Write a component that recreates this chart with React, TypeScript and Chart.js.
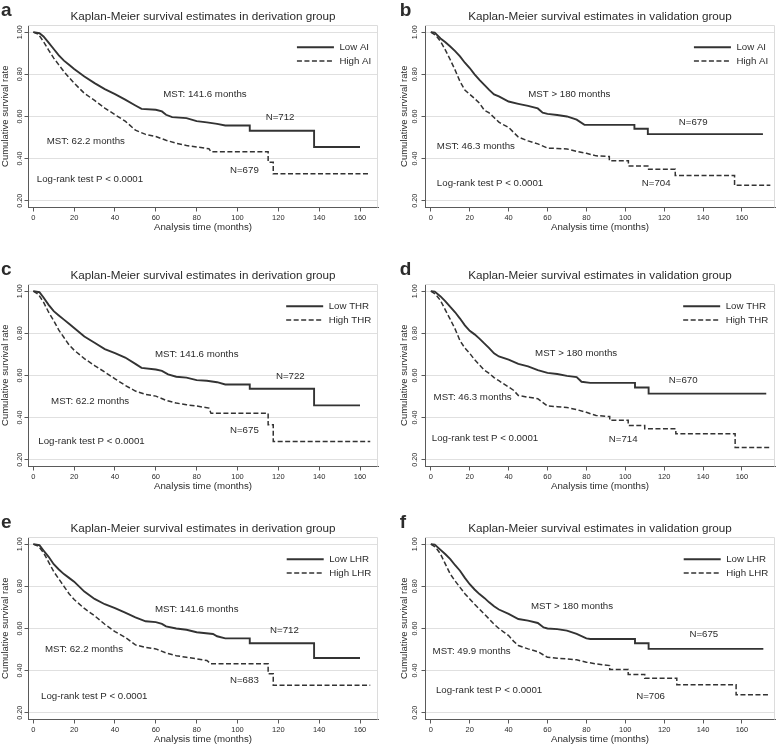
import React, { useEffect, useRef } from 'react';
import { Chart, registerables } from 'chart.js';

Chart.register(...registerables);

const FONT = '"Liberation Sans", Arial, Helvetica, sans-serif';
const INK = '#2b2b2b';
const LINE = '#333333';
const AXIS = '#5a5a5a';
const GRID = '#e0e0e0';
const FRAME = '#dcdcdc';

// ---- axes ----
const xTicks = [0, 20, 40, 60, 80, 100, 120, 140, 160];
const yTicks = [0.2, 0.4, 0.6, 0.8, 1.0];
const yTickLabels = ['0.20', '0.40', '0.60', '0.80', '1.00'];

// ---- panel texts ----
const panelLetters = ['a', 'b', 'c', 'd', 'e', 'f'];
const panelTitles = [
  'Kaplan-Meier survival estimates in derivation group',
  'Kaplan-Meier survival estimates in validation group',
  'Kaplan-Meier survival estimates in derivation group',
  'Kaplan-Meier survival estimates in validation group',
  'Kaplan-Meier survival estimates in derivation group',
  'Kaplan-Meier survival estimates in validation group',
];
const lowLabels = ['Low AI', 'Low AI', 'Low THR', 'Low THR', 'Low LHR', 'Low LHR'];
const highLabels = ['High AI', 'High AI', 'High THR', 'High THR', 'High LHR', 'High LHR'];

// ---- series (time in months, cumulative survival) ----
const aLowT = [0, 3, 5, 7.5, 10, 12.5, 15, 17.5, 20, 25, 30, 35, 40, 45, 50, 53, 60, 63, 65, 68, 75, 80, 85, 90, 94, 106, 106, 137.5, 137.5, 160];
const aLowS = [1, 0.995, 0.98, 0.95, 0.92, 0.89, 0.865, 0.845, 0.825, 0.79, 0.758, 0.73, 0.706, 0.68, 0.652, 0.636, 0.632, 0.624, 0.608, 0.597, 0.592, 0.578, 0.572, 0.565, 0.557, 0.557, 0.532, 0.532, 0.455, 0.455];
const aHighT = [0, 2.5, 5, 7.5, 10, 12.5, 15, 17.5, 20, 25, 30, 35, 40, 45, 50, 55, 60, 65, 70, 75, 80, 86, 87, 115, 115, 117.5, 117.5, 165];
const aHighS = [1, 0.99, 0.955, 0.915, 0.877, 0.845, 0.813, 0.785, 0.758, 0.71, 0.676, 0.64, 0.608, 0.578, 0.535, 0.515, 0.505, 0.487, 0.473, 0.462, 0.455, 0.447, 0.432, 0.432, 0.383, 0.383, 0.328, 0.328];

const bLowT = [0, 2, 5, 7.5, 10, 12.5, 15, 17.5, 20, 22.5, 25, 27.5, 30, 32.5, 35, 40, 45, 50, 55, 57.5, 60, 65, 70, 75, 79, 104.7, 104.7, 111.6, 111.6, 170.8];
const bLowS = [1, 0.998, 0.97, 0.952, 0.932, 0.91, 0.885, 0.855, 0.83, 0.8, 0.774, 0.75, 0.726, 0.705, 0.695, 0.671, 0.66, 0.65, 0.638, 0.618, 0.612, 0.607, 0.6, 0.585, 0.56, 0.56, 0.542, 0.542, 0.516, 0.516];
const bHighT = [0, 2.5, 5, 7.5, 10, 12.5, 15, 17.5, 20, 22.5, 25, 27.5, 30, 32.5, 35, 37.5, 40, 42.5, 45, 50, 55, 60, 65, 70, 75, 80, 85, 91.8, 91.8, 101.6, 101.6, 111.6, 111.6, 125.7, 125.7, 156.2, 156.2, 174.6];
const bHighS = [1, 0.985, 0.956, 0.915, 0.869, 0.82, 0.766, 0.725, 0.705, 0.685, 0.663, 0.63, 0.617, 0.595, 0.573, 0.56, 0.548, 0.525, 0.502, 0.484, 0.47, 0.45, 0.448, 0.446, 0.434, 0.425, 0.413, 0.41, 0.39, 0.39, 0.365, 0.365, 0.35, 0.35, 0.32, 0.32, 0.273, 0.273];

const cLowT = [0, 3, 5, 7.5, 10, 12.5, 15, 17.5, 20, 25, 30, 35, 40, 45, 50, 53, 60, 63, 66, 70, 75, 80, 85, 90, 94, 106, 106, 137.5, 137.5, 160];
const cLowS = [1, 0.995, 0.97, 0.935, 0.905, 0.885, 0.865, 0.845, 0.825, 0.785, 0.755, 0.725, 0.706, 0.685, 0.655, 0.636, 0.628, 0.622, 0.605, 0.594, 0.59, 0.578, 0.575, 0.568, 0.557, 0.557, 0.537, 0.537, 0.458, 0.458];
const cHighT = [0, 2.5, 5, 7.5, 10, 12.5, 15, 17.5, 20, 25, 30, 35, 40, 45, 50, 55, 60, 65, 70, 75, 80, 86, 87, 115, 115, 117.5, 117.5, 165];
const cHighS = [1, 0.985, 0.948, 0.9, 0.86, 0.815, 0.78, 0.745, 0.72, 0.68, 0.647, 0.616, 0.584, 0.553, 0.526, 0.51, 0.502, 0.482, 0.469, 0.461, 0.455, 0.445, 0.421, 0.421, 0.366, 0.366, 0.287, 0.287];

const dLowT = [0, 2, 5, 7.5, 10, 12.5, 15, 17.5, 20, 22.5, 25, 27.5, 30, 32.5, 35, 40, 45, 50, 55, 60, 65, 70, 75, 77.5, 82, 105, 105, 112, 112, 172.5];
const dLowS = [1, 0.998, 0.975, 0.952, 0.925, 0.9, 0.87, 0.838, 0.812, 0.795, 0.775, 0.752, 0.73, 0.705, 0.69, 0.675, 0.655, 0.643, 0.625, 0.612, 0.607, 0.598, 0.592, 0.57, 0.565, 0.565, 0.543, 0.543, 0.514, 0.514];
const dHighT = [0, 2.5, 5, 7.5, 10, 12.5, 15, 17.5, 20, 22.5, 25, 27.5, 30, 32.5, 35, 37.5, 40, 42.5, 45, 50, 55, 60, 65, 70, 75, 80, 85, 92, 92, 101.5, 101.5, 110, 110, 126, 126, 156.5, 156.5, 174.6];
const dHighS = [1, 0.985, 0.955, 0.91, 0.866, 0.82, 0.765, 0.73, 0.705, 0.675, 0.65, 0.625, 0.61, 0.59, 0.575, 0.56, 0.545, 0.53, 0.505, 0.497, 0.49, 0.455, 0.452, 0.448, 0.438, 0.425, 0.41, 0.405, 0.387, 0.387, 0.363, 0.363, 0.347, 0.347, 0.323, 0.323, 0.258, 0.258];

const eLowT = [0, 3, 5, 7.5, 10, 12.5, 15, 17.5, 20, 25, 30, 35, 40, 45, 50, 55, 60, 63, 65, 70, 75, 80, 88, 90, 94, 106, 106, 137.5, 137.5, 160];
const eLowS = [1, 0.995, 0.97, 0.94, 0.905, 0.88, 0.858, 0.84, 0.822, 0.775, 0.74, 0.715, 0.697, 0.675, 0.653, 0.634, 0.63, 0.622, 0.61, 0.6, 0.594, 0.582, 0.574, 0.563, 0.553, 0.553, 0.53, 0.53, 0.46, 0.46];
const eHighT = [0, 2.5, 5, 7.5, 10, 12.5, 15, 17.5, 20, 25, 30, 35, 40, 45, 50, 55, 60, 65, 70, 75, 80, 85, 87, 115, 115, 117.5, 117.5, 165];
const eHighS = [1, 0.99, 0.96, 0.915, 0.87, 0.835, 0.8, 0.765, 0.737, 0.695, 0.66, 0.62, 0.585, 0.558, 0.522, 0.51, 0.503, 0.484, 0.471, 0.463, 0.456, 0.448, 0.432, 0.432, 0.385, 0.385, 0.33, 0.33];

const fLowT = [0, 2, 5, 7.5, 10, 12.5, 15, 17.5, 20, 22.5, 25, 27.5, 30, 32.5, 35, 40, 45, 50, 55, 58, 60, 65, 70, 75, 80, 82, 105, 105, 112, 112, 171];
const fLowS = [1, 0.998, 0.973, 0.952, 0.929, 0.9, 0.874, 0.84, 0.81, 0.785, 0.763, 0.745, 0.724, 0.705, 0.69, 0.669, 0.645, 0.637, 0.626, 0.605, 0.6, 0.597, 0.59, 0.574, 0.553, 0.55, 0.55, 0.53, 0.53, 0.503, 0.503];
const fHighT = [0, 2.5, 5, 7.5, 10, 12.5, 15, 17.5, 20, 22.5, 25, 27.5, 30, 32.5, 35, 37.5, 40, 42.5, 45, 50, 55, 60, 65, 70, 75, 80, 85, 92, 92, 101.5, 101.5, 110, 110, 126.5, 126.5, 157, 157, 174.6];
const fHighS = [1, 0.985, 0.953, 0.905, 0.858, 0.825, 0.795, 0.765, 0.74, 0.715, 0.692, 0.668, 0.645, 0.62, 0.6, 0.583, 0.566, 0.54, 0.519, 0.503, 0.49, 0.463, 0.459, 0.456, 0.451, 0.44, 0.432, 0.424, 0.405, 0.405, 0.382, 0.382, 0.364, 0.364, 0.333, 0.333, 0.285, 0.285];

const lowTimes = [aLowT, bLowT, cLowT, dLowT, eLowT, fLowT];
const lowSurv = [aLowS, bLowS, cLowS, dLowS, eLowS, fLowS];
const highTimes = [aHighT, bHighT, cHighT, dHighT, eHighT, fHighT];
const highSurv = [aHighS, bHighS, cHighS, dHighS, eHighS, fHighS];

// ---- annotations ----
const mstLowText = ['MST: 141.6 months', 'MST > 180 months', 'MST: 141.6 months', 'MST > 180 months', 'MST: 141.6 months', 'MST > 180 months'];
const mstHighText = ['MST: 62.2 months', 'MST: 46.3 months', 'MST: 62.2 months', 'MST: 46.3 months', 'MST: 62.2 months', 'MST: 49.9 months'];
const nLowText = ['N=712', 'N=679', 'N=722', 'N=670', 'N=712', 'N=675'];
const nHighText = ['N=679', 'N=704', 'N=675', 'N=714', 'N=683', 'N=706'];
const logRankText = 'Log-rank test P < 0.0001';

// anchor of each note's left edge, in data units [months, survival]
const mstLowPos = [[63.6, 0.703], [50.1, 0.705], [59.6, 0.699], [53.6, 0.703], [59.6, 0.692], [51.5, 0.706]];
const mstHighPos = [[6.6, 0.481], [3.1, 0.458], [8.7, 0.479], [1.4, 0.495], [5.7, 0.499], [0.9, 0.493]];
const nLowPos = [[113.8, 0.594], [127.5, 0.572], [118.8, 0.597], [122.4, 0.577], [115.9, 0.589], [133, 0.57]];
const nHighPos = [[96.3, 0.344], [108.5, 0.284], [96.3, 0.34], [91.5, 0.297], [96.3, 0.352], [105.6, 0.276]];
const logRankPos = [[1.7, 0.3], [3.1, 0.284], [2.45, 0.288], [0.5, 0.3], [3.8, 0.276], [2.6, 0.305]];

// axis ranges per column
const xRanges = [[-2.6, 168.8], [-3.0, 177.0]];
const yRange = [0.168, 1.034];

// ---- layout ----
const CW = 389;
const CH = 250;
const CT = 32;
const CB = 214.5;
const TICK_LEN = 3.5;
const Y_TICK_FONT = 7.2;
const COLS = [
  { yAxisW: 28, padRight: 11, yTitlePad: -0.8, yTickPad: -2.9, letterX: 1 },
  { yAxisW: 36, padRight: 3, yTitlePad: 9.2, yTickPad: -0.8, letterX: 10.7 },
];
const GEOM = [
  { left: 0, top: -7, col: 0 },
  { left: 389, top: -7, col: 1 },
  { left: 0, top: 252, col: 0 },
  { left: 389, top: 252, col: 1 },
  { left: 0, top: 505, col: 0 },
  { left: 389, top: 505, col: 1 },
];

function makeDecor(idx: number) {
  const col = COLS[GEOM[idx].col];
  return {
    id: 'decor' + idx,
    beforeDatasetsDraw(chart: any) {
      const { ctx, chartArea: a } = chart;
      ctx.save();
      ctx.strokeStyle = FRAME;
      ctx.lineWidth = 1;
      ctx.beginPath();
      ctx.moveTo(a.left, a.top + 0.5);
      ctx.lineTo(a.right - 0.5, a.top + 0.5);
      ctx.lineTo(a.right - 0.5, a.bottom);
      ctx.stroke();
      ctx.restore();
    },
    afterDraw(chart: any) {
      const { ctx, chartArea: a } = chart;
      const xs = chart.scales.x;
      const ys = chart.scales.y;
      ctx.save();
      ctx.fillStyle = INK;
      ctx.textAlign = 'left';
      ctx.textBaseline = 'alphabetic';
      ctx.font = `bold 19px ${FONT}`;
      ctx.fillText(panelLetters[idx], col.letterX, 22.8);
      ctx.font = `11.7px ${FONT}`;
      ctx.textAlign = 'center';
      ctx.fillText(panelTitles[idx], (a.left + a.right) / 2, 27);

      ctx.font = `9.7px ${FONT}`;
      ctx.textAlign = 'left';
      ctx.textBaseline = 'middle';
      const notes: [string, number[]][] = [
        [mstLowText[idx], mstLowPos[idx]],
        [mstHighText[idx], mstHighPos[idx]],
        [nLowText[idx], nLowPos[idx]],
        [nHighText[idx], nHighPos[idx]],
        [logRankText, logRankPos[idx]],
      ];
      notes.forEach(([t, p]) => {
        ctx.fillText(t, xs.getPixelForValue(p[0]), ys.getPixelForValue(p[1]));
      });

      // legend
      const ds = chart.data.datasets;
      const lineLen = 37;
      const gap = 5.5;
      const tw = Math.max(...ds.map((d: any) => ctx.measureText(d.label).width));
      const x0 = a.right - 6.8 - tw - gap - lineLen;
      ds.forEach((d: any, i: number) => {
        const yy = a.top + 22.3 + i * 13.8;
        ctx.save();
        ctx.strokeStyle = d.borderColor;
        ctx.lineWidth = d.borderWidth;
        ctx.setLineDash(d.borderDash || []);
        ctx.beginPath();
        ctx.moveTo(x0, yy);
        ctx.lineTo(x0 + lineLen, yy);
        ctx.stroke();
        ctx.restore();
        ctx.fillText(d.label, x0 + lineLen + gap, yy);
      });
      ctx.restore();
    },
  };
}

function Panel({ idx }: { idx: number }) {
  const ref = useRef<HTMLCanvasElement>(null);
  const g = GEOM[idx];
  useEffect(() => {
    const col = COLS[g.col];
    const xr = xRanges[g.col];
    const chart = new Chart(ref.current as HTMLCanvasElement, {
      type: 'line',
      data: {
        datasets: [
          {
            label: lowLabels[idx],
            data: lowTimes[idx].map((t, i) => ({ x: t, y: lowSurv[idx][i] })),
            borderColor: LINE,
            borderWidth: 1.9,
            pointRadius: 0,
            pointHoverRadius: 0,
            fill: false,
            tension: 0,
          },
          {
            label: highLabels[idx],
            data: highTimes[idx].map((t, i) => ({ x: t, y: highSurv[idx][i] })),
            borderColor: LINE,
            borderWidth: 1.5,
            borderDash: [5, 2.5],
            pointRadius: 0,
            pointHoverRadius: 0,
            fill: false,
            tension: 0,
          },
        ],
      } as any,
      options: {
        responsive: false,
        animation: false,
        devicePixelRatio: 1,
        events: [],
        layout: { padding: { top: CT, right: col.padRight, bottom: 0, left: 0 } },
        plugins: {
          legend: { display: false },
          tooltip: { enabled: false },
          title: { display: false },
        },
        scales: {
          x: {
            type: 'linear',
            min: xr[0],
            max: xr[1],
            afterBuildTicks: (s: any) => {
              s.ticks = xTicks.map((v) => ({ value: v }));
            },
            afterFit: (s: any) => {
              s.height = CH - CB;
            },
            ticks: {
              autoSkip: false,
              maxRotation: 0,
              padding: 2,
              color: INK,
              font: { family: FONT, size: 7.5 },
              callback: (v: any) => String(v),
            },
            grid: { drawOnChartArea: false, tickLength: TICK_LEN + 0.5, color: AXIS, tickColor: AXIS },
            border: { display: true, color: AXIS, width: 1 },
            title: {
              display: true,
              text: 'Analysis time (months)',
              color: INK,
              font: { family: FONT, size: 9.7 },
              padding: { top: 0, bottom: 9.4 },
            },
          },
          y: {
            type: 'linear',
            min: yRange[0],
            max: yRange[1],
            afterBuildTicks: (s: any) => {
              s.ticks = yTicks.map((v) => ({ value: v }));
            },
            afterFit: (s: any) => {
              s.width = col.yAxisW;
            },
            ticks: {
              autoSkip: false,
              minRotation: 90,
              maxRotation: 90,
              crossAlign: 'center',
              padding: col.yTickPad,
              color: INK,
              font: { family: FONT, size: Y_TICK_FONT },
              callback: (v: any) => yTickLabels[yTicks.findIndex((t) => Math.abs(t - v) < 1e-6)],
            },
            grid: { color: GRID, lineWidth: 1, tickLength: TICK_LEN, tickColor: AXIS },
            border: { display: true, color: AXIS, width: 1 },
            title: {
              display: true,
              text: 'Cumulative survival rate',
              color: INK,
              font: { family: FONT, size: 9.5 },
              padding: { top: col.yTitlePad, bottom: 0 },
            },
          },
        },
      } as any,
      plugins: [makeDecor(idx)],
    });
    return () => chart.destroy();
  }, [idx]);
  return (
    <canvas
      ref={ref}
      width={CW}
      height={CH}
      style={{ position: 'absolute', left: g.left, top: g.top, width: CW, height: CH }}
    />
  );
}

export default function App() {
  return (
    <div
      style={{
        position: 'absolute',
        left: 0,
        top: 0,
        width: 778,
        height: 745,
        overflow: 'hidden',
        background: '#ffffff',
      }}
    >
      {[0, 1, 2, 3, 4, 5].map((i) => (
        <Panel key={i} idx={i} />
      ))}
    </div>
  );
}
